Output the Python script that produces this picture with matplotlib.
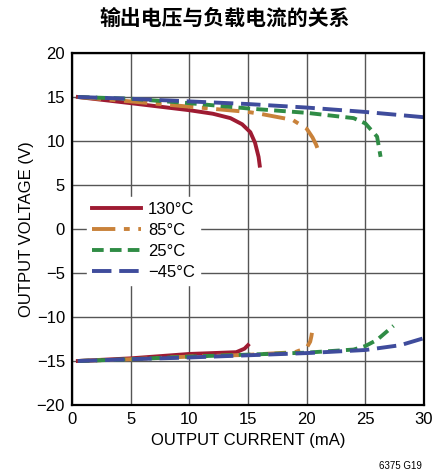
import numpy as np
from matplotlib import pyplot as plt
from matplotlib import font_manager

# pick a narrow sans if available
names = set(f.name for f in font_manager.fontManager.ttflist)
tickFont = 'Liberation Sans Narrow' if 'Liberation Sans Narrow' in names else 'Liberation Sans'

plt.rcParams['font.family'] = [tickFont, 'DejaVu Sans']

title = '输出电压与负载电流的关系'
labels = ['130°C', '85°C', '25°C', '\u221245°C']
colors = ['#9E1B32', '#C9823A', '#2F8C45', '#3F4C9C']

# positive output (mA, V)
hiX = [
    [0.5, 5, 10, 12, 13.5, 14.5, 15.2, 15.6, 15.9, 16.0],
    [0.5, 5, 10, 15, 16, 18.8, 20.0, 20.5, 20.8, 21.0],
    [0.5, 5, 10, 15, 20, 24, 25, 26, 26.3],
    [0.5, 5, 10, 15, 20, 25, 30],
]
hiY = [
    [15.0, 14.3, 13.5, 13.1, 12.6, 11.9, 11.0, 9.8, 8.2, 7.2],
    [15.0, 14.5, 13.9, 13.3, 13.1, 12.4, 11.4, 10.4, 9.6, 8.9],
    [15.0, 14.8, 14.3, 13.7, 13.2, 12.6, 12.0, 10.5, 8.2],
    [15.0, 14.8, 14.5, 14.2, 13.8, 13.3, 12.7],
]
# negative output
loX = [
    [0.5, 5, 10, 14, 14.7, 15.0],
    [0.5, 5, 10, 15, 19, 20.0, 20.3, 20.4, 20.45],
    [0.5, 5, 10, 20, 24, 25, 26, 27.4],
    [0.5, 5, 10, 20, 25, 28, 30],
]
loY = [
    [-15.0, -14.7, -14.2, -14.0, -13.6, -13.2],
    [-15.0, -14.8, -14.5, -14.3, -14.0, -13.5, -12.8, -12.2, -11.8],
    [-15.0, -14.8, -14.5, -14.05, -13.7, -13.3, -12.6, -11.0],
    [-15.0, -14.8, -14.6, -14.1, -13.75, -13.2, -12.4],
]
styles = ['-', (0, (6, 2.2, 1.5, 2.2)), (0, (3, 1.6)), (0, (5, 2))]

fig = plt.figure(figsize=(4.32, 4.75), dpi=100)
ax = fig.add_axes([72/432, 1-405/475, 352/432, 352/475])

for i in range(4):
    ax.plot(hiX[i], hiY[i], color=colors[i], lw=2.8, ls=styles[i], label=labels[i])
    ax.plot(loX[i], loY[i], color=colors[i], lw=2.8, ls=styles[i])

ax.set_xlim(0, 30)
ax.set_ylim(-20, 20)
ax.set_xticks(np.arange(0, 31, 5))
ax.set_yticks(np.arange(-20, 21, 5))
ax.set_yticklabels([str(v).replace('-', '\u2212') for v in range(-20, 21, 5)])
ax.grid(color='#555555', lw=1.0)
ax.set_axisbelow(True)
ax.tick_params(length=0, labelsize=12, pad=5)
for s in ax.spines.values():
    s.set_linewidth(1.6)
ax.set_xlabel('OUTPUT CURRENT (mA)', fontsize=12, labelpad=4)
ax.set_ylabel('OUTPUT VOLTAGE (V)', fontsize=12, labelpad=2)

leg = ax.legend(loc='upper left', bbox_to_anchor=(0.02, 0.615), frameon=True,
                fontsize=12, handlelength=2.9, labelspacing=0.36,
                borderpad=0.3, handletextpad=0.45, framealpha=1, fancybox=False)
leg.get_frame().set_edgecolor('white')

fig.text(225/432, 1-18/475, title, fontsize=15, fontweight='bold',
         family=['Noto Sans CJK SC', 'DejaVu Sans'], ha='center', va='center')
fig.text(422/432, 1-466/475, '6375 G19', fontsize=7, ha='right', va='center')

fig.savefig('out.png', dpi=100)
